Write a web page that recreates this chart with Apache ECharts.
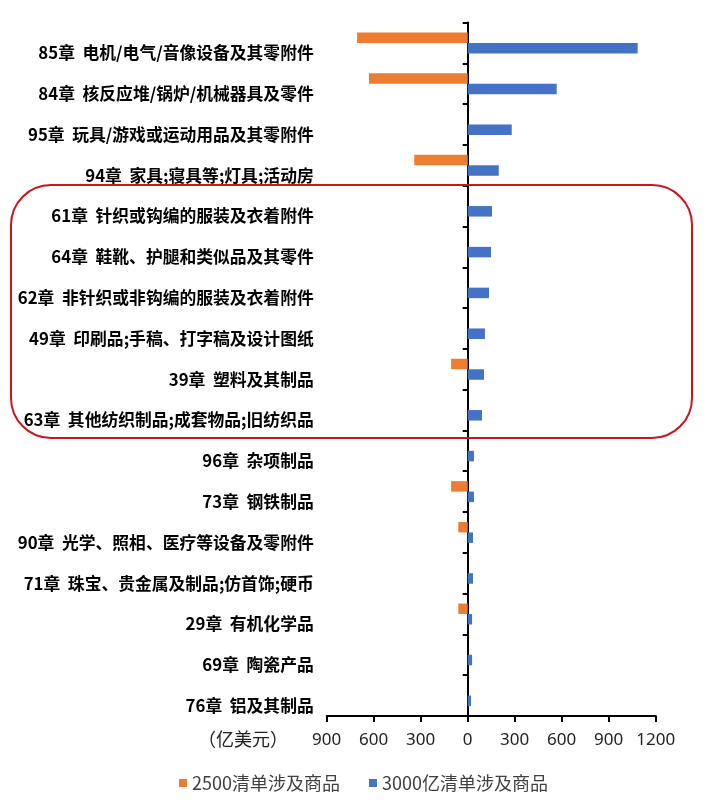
<!DOCTYPE html>
<html>
<head>
<meta charset="utf-8">
<script src="https://cdn.jsdelivr.net/npm/echarts@6/dist/echarts.min.js"></script>
<style>
html,body{margin:0;padding:0;background:#fff;}
#main{width:715px;height:812px;}
</style>
</head>
<body>
<div id="main"></div>
<script>
const categories = [
  '85章  电机/电气/音像设备及其零附件',
  '84章  核反应堆/锅炉/机械器具及零件',
  '95章  玩具/游戏或运动用品及其零附件',
  '94章  家具;寝具等;灯具;活动房',
  '61章  针织或钩编的服装及衣着附件',
  '64章  鞋靴、护腿和类似品及其零件',
  '62章  非针织或非钩编的服装及衣着附件',
  '49章  印刷品;手稿、打字稿及设计图纸',
  '39章  塑料及其制品',
  '63章  其他纺织制品;成套物品;旧纺织品',
  '96章  杂项制品',
  '73章  钢铁制品',
  '90章  光学、照相、医疗等设备及零附件',
  '71章  珠宝、贵金属及制品;仿首饰;硬币',
  '29章  有机化学品',
  '69章  陶瓷产品',
  '76章  铝及其制品'
];
// 2500清单涉及商品 (drawn to the left, negative direction)
const list2500 = [-706, -630, 0, -341, 0, 0, 0, 0, -106, 0, 0, -106, -60, 0, -60, 0, 0];
// 3000亿清单涉及商品
const list3000 = [1085, 568, 281, 198, 155, 149, 136, 110, 104, 91, 40, 40, 34, 34, 28, 28, 21];
const seriesNames = ['2500清单涉及商品', '3000亿清单涉及商品'];
const unitLabel = '（亿美元）';

const chart = echarts.init(document.getElementById('main'));
chart.setOption({
  animation: false,
  backgroundColor: '#fff',
  grid: { left: 326.7, right: 59.3, top: 22.5, bottom: 96, containLabel: false },
  legend: {
    data: seriesNames,
    left: 174, top: 769,
    icon: 'rect', itemWidth: 8, itemHeight: 8, itemGap: 29,
    textStyle: { fontSize: 18, color: '#404040', fontFamily: 'Noto Sans CJK SC' }
  },
  xAxis: {
    type: 'value', min: -900, max: 1200, interval: 300,
    splitLine: { show: false },
    axisLine: { show: true, lineStyle: { color: '#000', width: 2 } },
    axisTick: { show: true, length: 6, lineStyle: { color: '#000', width: 2 } },
    axisLabel: {
      margin: 16, fontSize: 17, color: '#222', fontFamily: 'Noto Sans',
      formatter: v => String(Math.abs(v))
    }
  },
  yAxis: [
    {
      type: 'category', inverse: true, data: categories, position: 'left',
      axisLine: { show: false, onZero: false },
      axisTick: { show: false },
      axisLabel: {
        margin: 13, fontSize: 16.8, fontWeight: 'bold', color: '#000',
        fontFamily: 'Noto Sans CJK SC', verticalAlign: 'top', lineHeight: 20
      }
    },
    {
      type: 'category', inverse: true, data: categories, position: 'left',
      axisLine: { show: true, onZero: true, lineStyle: { color: '#000', width: 2 } },
      axisTick: { show: true, length: 5, lineStyle: { color: '#000', width: 2 } },
      axisLabel: { show: false }
    }
  ],
  series: [
    {
      name: seriesNames[0], type: 'bar', data: list2500, yAxisIndex: 0,
      barWidth: 10.5, barGap: '0%',
      itemStyle: { color: '#ED7D31' }
    },
    {
      name: seriesNames[1], type: 'bar', data: list3000, yAxisIndex: 0,
      barWidth: 10.5, barGap: '0%',
      itemStyle: { color: '#4472C4' }
    }
  ],
  graphic: [
    {
      type: 'text', left: 198, top: 730, z: 10,
      style: { text: unitLabel, fontSize: 18, fill: '#222', fontFamily: 'Noto Sans CJK SC' }
    },
    {
      type: 'rect', z: 100, silent: true,
      shape: { x: 11, y: 185, width: 681, height: 253, r: 40 },
      style: { fill: 'none', stroke: '#C8161D', lineWidth: 2 }
    }
  ]
});
</script>
</body>
</html>
